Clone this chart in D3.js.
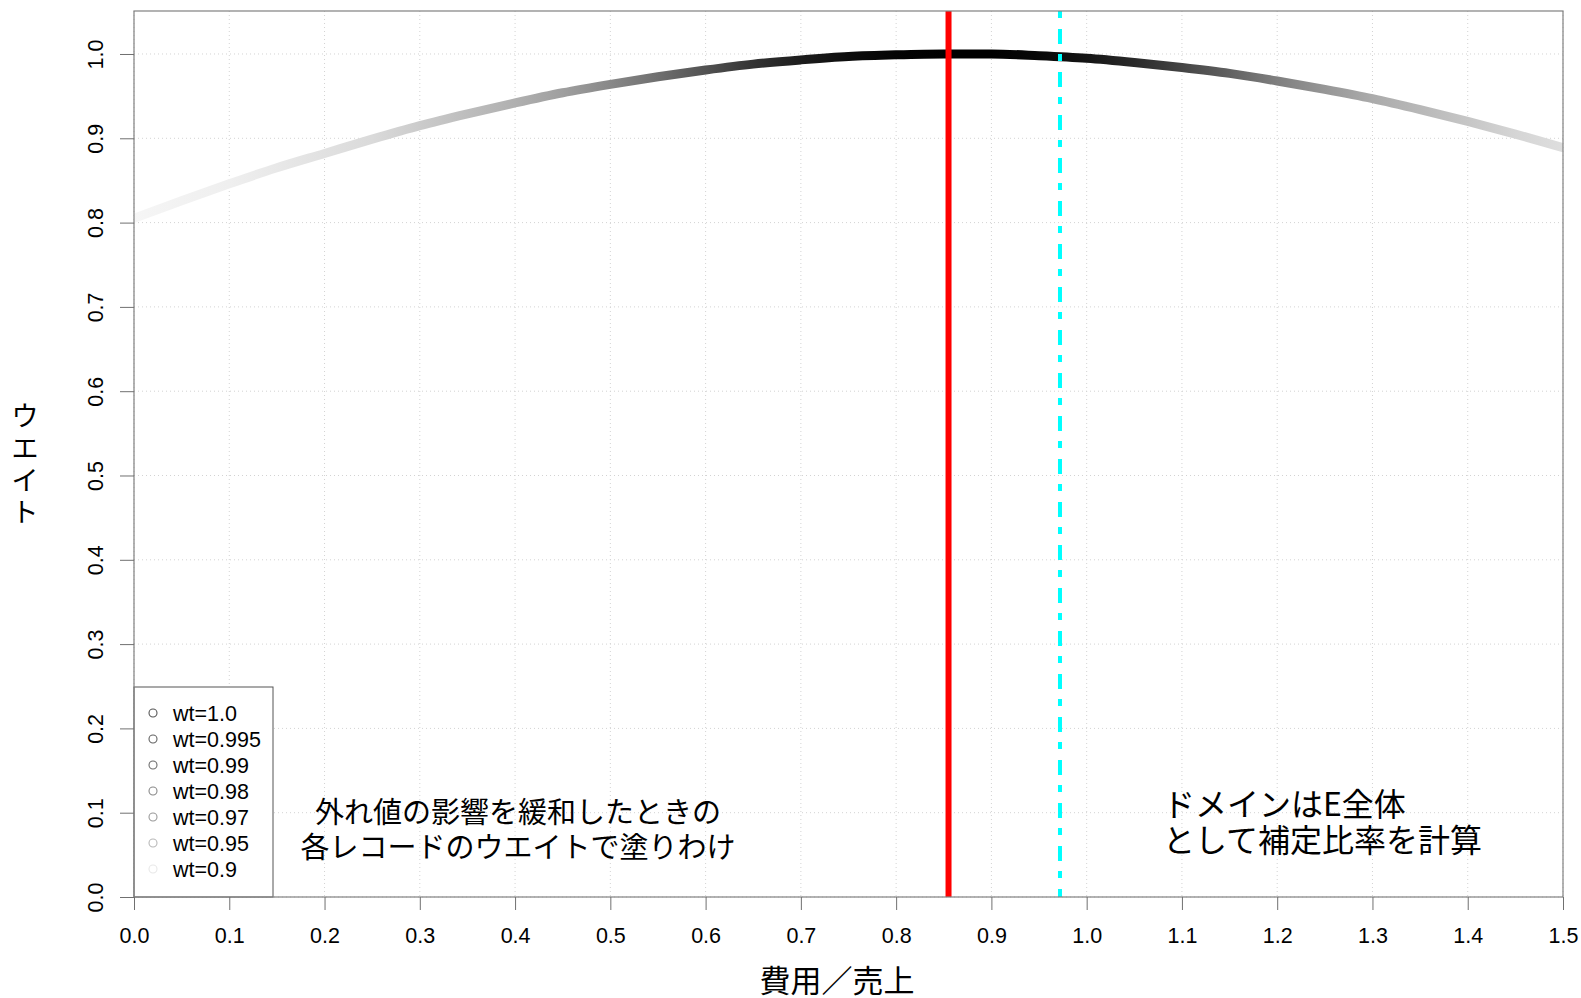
<!DOCTYPE html>
<html>
<head>
<meta charset="utf-8">
<script src="https://cdn.jsdelivr.net/npm/d3@7"></script>
<style>
  html, body { margin: 0; padding: 0; background: #fff; }
  svg { display: block; }
  .num { font-family: "Liberation Sans", Arial, sans-serif; }
  .jp { font-family: "Noto Sans CJK JP", sans-serif; }
</style>
</head>
<body>
<div id="chart"></div>
<script>
// weight curve (x = cost/sales ratio)
const costRatio = [0.00, 0.05, 0.10, 0.15, 0.20, 0.25, 0.30, 0.35, 0.40, 0.45,
  0.50, 0.55, 0.60, 0.65, 0.70, 0.75, 0.80, 0.85, 0.90, 0.95,
  1.00, 1.05, 1.10, 1.15, 1.20, 1.25, 1.30, 1.35, 1.40, 1.45, 1.50];
const weight = [0.805, 0.826, 0.846, 0.865, 0.882, 0.899, 0.915, 0.929, 0.942, 0.954,
  0.964, 0.973, 0.981, 0.988, 0.993, 0.997, 0.999, 1.000, 1.000, 0.998,
  0.995, 0.990, 0.984, 0.977, 0.968, 0.958, 0.947, 0.934, 0.920, 0.905, 0.889];

// vertical reference lines
const redLineX = 0.855;
const cyanLineX = 0.972;

// legend
const legendKeys = [1.0, 0.995, 0.99, 0.98, 0.97, 0.95, 0.9];
const legendLabels = ['wt=1.0', 'wt=0.995', 'wt=0.99', 'wt=0.98', 'wt=0.97', 'wt=0.95', 'wt=0.9'];

// ticks
const xTicks = [0.0, 0.1, 0.2, 0.3, 0.4, 0.5, 0.6, 0.7, 0.8, 0.9, 1.0, 1.1, 1.2, 1.3, 1.4, 1.5];
const yTicks = [0.0, 0.1, 0.2, 0.3, 0.4, 0.5, 0.6, 0.7, 0.8, 0.9, 1.0];

const leftNote = ['外れ値の影響を緩和したときの', '各レコードのウエイトで塗りわけ'];
const rightNote = ['ドメインはE全体', 'として補定比率を計算'];

const W = 1581, H = 998;
const margin = {top: 11, right: 18, bottom: 101, left: 134};
const iw = W - margin.left - margin.right;
const ih = H - margin.top - margin.bottom;

const x = d3.scaleLinear().domain([0, 1.5]).range([0, iw]);
const y = d3.scaleLinear().domain([0, 1.051]).range([ih, 0]);

// weight -> gray level
const grey = d3.scaleLinear()
  .domain([0.80, 0.85, 0.90, 0.95, 0.97, 0.98, 0.99, 1.0])
  .range(['#f7f7f7', '#eeeeee', '#dadada', '#a8a8a8', '#7a7a7a', '#565656', '#2a2a2a', '#000000'])
  .clamp(true);

// legend symbols look lighter than the curve itself
const legendGrey = d3.scaleLinear()
  .domain([0.9, 0.95, 0.97, 0.98, 0.99, 1.0])
  .range(['#e8e8e8', '#b8b8b8', '#999999', '#888888', '#6f6f6f', '#555555']);

const svg = d3.select('#chart').append('svg')
  .attr('width', W)
  .attr('height', H);

const defs = svg.append('defs');
defs.append('clipPath').attr('id', 'plotclip')
  .append('rect').attr('width', iw).attr('height', ih);

const grad = defs.append('linearGradient')
  .attr('id', 'wtgrad')
  .attr('gradientUnits', 'userSpaceOnUse')
  .attr('x1', 0).attr('y1', 0)
  .attr('x2', iw).attr('y2', 0);
grad.selectAll('stop')
  .data(costRatio)
  .enter().append('stop')
  .attr('offset', d => x(d) / iw)
  .attr('stop-color', (d, i) => grey(weight[i]));

const g = svg.append('g').attr('transform', `translate(${margin.left},${margin.top})`);

// grid
g.append('g').selectAll('line')
  .data(xTicks)
  .enter().append('line')
  .attr('x1', d => x(d)).attr('x2', d => x(d))
  .attr('y1', 0).attr('y2', ih)
  .attr('stroke', '#d3d3d3').attr('stroke-dasharray', '1,3');
g.append('g').selectAll('line')
  .data(yTicks)
  .enter().append('line')
  .attr('x1', 0).attr('x2', iw)
  .attr('y1', d => y(d)).attr('y2', d => y(d))
  .attr('stroke', '#d3d3d3').attr('stroke-dasharray', '1,3');

const plot = g.append('g').attr('clip-path', 'url(#plotclip)');

const line = d3.line()
  .x(d => x(d[0]))
  .y(d => y(d[1]))
  .curve(d3.curveMonotoneX);

plot.append('path')
  .datum(costRatio.map((c, i) => [c, weight[i]]))
  .attr('d', line)
  .attr('fill', 'none')
  .attr('stroke', 'url(#wtgrad)')
  .attr('stroke-width', 9)
  .attr('stroke-linecap', 'round');

plot.append('line')
  .attr('x1', x(redLineX)).attr('x2', x(redLineX))
  .attr('y1', 0).attr('y2', ih)
  .attr('stroke', '#ff0000').attr('stroke-width', 6);

plot.append('line')
  .attr('x1', x(cyanLineX)).attr('x2', x(cyanLineX))
  .attr('y1', 0).attr('y2', ih)
  .attr('stroke', '#00ffff').attr('stroke-width', 4)
  .attr('stroke-dasharray', '7,11,15,10');

// legend
const leg = g.append('g');
leg.append('rect')
  .attr('x', 0).attr('y', 676)
  .attr('width', 139).attr('height', ih - 676)
  .attr('fill', '#fff').attr('stroke', '#555').attr('stroke-width', 1);
const items = leg.selectAll('g.item')
  .data(legendKeys)
  .enter().append('g')
  .attr('transform', (d, i) => `translate(0,${702 + i * 26})`);
items.append('circle')
  .attr('cx', 19).attr('cy', 0).attr('r', 4)
  .attr('fill', 'none')
  .attr('stroke', d => legendGrey(d))
  .attr('stroke-width', 1.1);
items.append('text')
  .attr('class', 'num')
  .attr('x', 39).attr('y', 7.5)
  .attr('font-size', 21.5)
  .attr('fill', '#000')
  .text((d, i) => legendLabels[i]);

// frame
g.append('rect')
  .attr('width', iw).attr('height', ih)
  .attr('fill', 'none').attr('stroke', '#808080').attr('stroke-width', 1.2);

// axes
const xAxis = d3.axisBottom(x).tickValues(xTicks).tickSize(13).tickPadding(33)
  .tickFormat(d3.format('.1f'));
const gx = g.append('g').attr('transform', `translate(0,${ih})`).call(xAxis);
gx.select('.domain').remove();
gx.selectAll('line').attr('stroke', '#707070');
gx.selectAll('text').attr('class', 'num').attr('font-size', 21.5).attr('fill', '#000')
  .attr('dy', 0).attr('y', 46);

const yAxis = d3.axisLeft(y).tickValues(yTicks).tickSize(14).tickFormat(d3.format('.1f'));
const gy = g.append('g').call(yAxis);
gy.select('.domain').remove();
gy.selectAll('line').attr('stroke', '#707070');
gy.selectAll('text')
  .attr('class', 'num')
  .attr('font-size', 21.5).attr('fill', '#000')
  .attr('x', null).attr('dy', null)
  .attr('text-anchor', 'middle')
  .attr('transform', 'translate(-31,0) rotate(-90)');

// axis titles
svg.append('text')
  .attr('class', 'jp')
  .attr('x', 837).attr('y', 992)
  .attr('text-anchor', 'middle')
  .attr('font-size', 31)
  .text('費用／売上');

const ylab = svg.append('g').attr('class', 'jp');
['ウ', 'エ', 'イ', 'ト'].forEach((ch, i) => {
  ylab.append('text')
    .attr('x', 25).attr('y', 426 + i * 32)
    .attr('font-size', 27)
    .attr('text-anchor', 'middle')
    .text(ch);
});

// notes
leftNote.forEach((s, i) => {
  svg.append('text').attr('class', 'jp').attr('font-size', 29).attr('text-anchor', 'middle')
    .attr('x', 518).attr('y', 823 + i * 35).text(s);
});
rightNote.forEach((s, i) => {
  svg.append('text').attr('class', 'jp').attr('font-size', 32).attr('text-anchor', 'start')
    .attr('x', 1163).attr('y', 816 + i * 36).text(s);
});
</script>
</body>
</html>
